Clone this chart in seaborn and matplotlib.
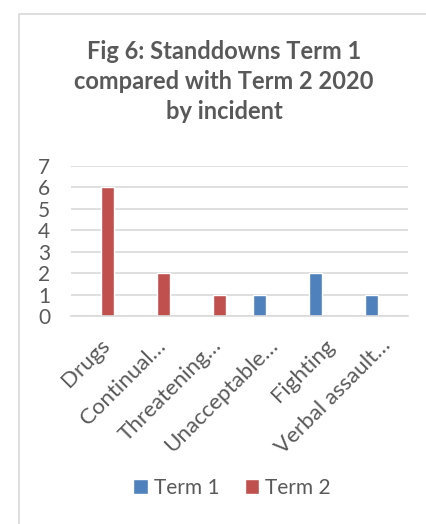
import matplotlib
matplotlib.use("Agg")
import matplotlib.pyplot as plt
import seaborn as sns
import pandas as pd
from matplotlib.patches import Rectangle, Patch

categories = ["Drugs", "Continual…", "Threatening…", "Unacceptable…", "Fighting", "Verbal assault…"]
term1 = [0, 0, 0, 1, 2, 1]
term2 = [6, 2, 1, 0, 0, 0]
series_names = ["Term 1", "Term 2"]
yticks = [0, 1, 2, 3, 4, 5, 6, 7]
title = "Fig 6: Standdowns Term 1\ncompared with Term 2 2020\nby incident"

BLUE = "#4F81BD"
RED = "#C0504D"
TEXT = "#595959"
GRID = "#D9D9D9"

df = pd.DataFrame({
    "incident": categories * 2,
    "count": term1 + term2,
    "term": [series_names[0]] * len(categories) + [series_names[1]] * len(categories),
})

sns.set_theme(style="white")
plt.rcParams["font.family"] = ["Lato", "DejaVu Sans"]

fig = plt.figure(figsize=(4.27, 5.24), dpi=100)
fig.patch.set_facecolor("white")

# outer chart frame (left and top edges visible)
fig.patches.append(Rectangle((19 / 427, -0.1), 1.2, 1 - 14 / 524 + 0.1,
                             transform=fig.transFigure, fill=False,
                             edgecolor=GRID, linewidth=1.2))

ax = fig.add_axes([71 / 427, 1 - 316 / 524, (408 - 71) / 427, (316 - 165.7) / 524])
sns.barplot(data=df, x="incident", y="count", hue="term",
            palette=[BLUE, RED], width=0.585, gap=0.227,
            order=categories, hue_order=series_names, ax=ax, legend=False,
            saturation=1)

ax.set_ylim(0, 7)
ax.set_xlim(-0.5, len(categories) - 0.5)
ax.set_yticks(yticks)
ax.set_yticklabels([str(v) for v in yticks], fontsize=15, color=TEXT)
ax.yaxis.grid(True, color=GRID, linewidth=1.2)
ax.set_axisbelow(True)
for s in ["left", "right", "top"]:
    ax.spines[s].set_visible(False)
ax.spines["bottom"].set_color(GRID)
ax.spines["bottom"].set_linewidth(1.2)
ax.tick_params(axis="both", length=0)
ax.tick_params(axis="y", pad=15)
ax.set_xlabel("")
ax.set_ylabel("")
ax.set_xticks(range(len(categories)))
ax.set_xticklabels(categories, rotation=45, ha="right", rotation_mode="anchor",
                   fontsize=16, color=TEXT)
ax.tick_params(axis="x", pad=14)

fig.text(0.525, 1 - 40 / 524, title, ha="center", va="top", fontsize=17,
         fontweight="bold", color=TEXT, linespacing=1.38)

handles = [Patch(facecolor=BLUE, label=series_names[0]),
           Patch(facecolor=RED, label=series_names[1])]
fig.legend(handles=handles, loc="center", bbox_to_anchor=(232 / 427, 1 - 488 / 524),
           ncol=2, frameon=False, fontsize=15, labelcolor=TEXT,
           handlelength=0.7, handleheight=0.7, handletextpad=0.3, columnspacing=1.2)

fig.savefig("out.png", dpi=100, facecolor="white")
